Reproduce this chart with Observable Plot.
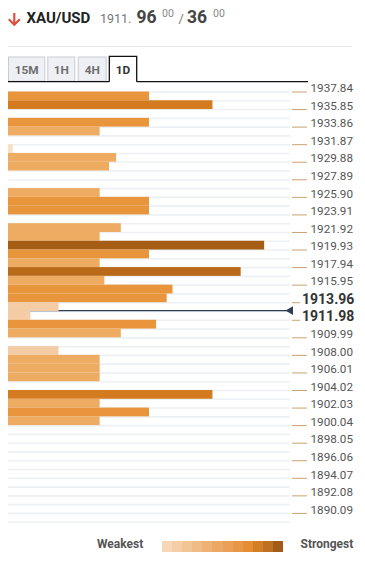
<!DOCTYPE html>
<html><head><meta charset="utf-8">
<script src="https://cdn.jsdelivr.net/npm/d3@7"></script>
<script src="https://cdn.jsdelivr.net/npm/@observablehq/plot@0.6"></script>
<style>
body{margin:0;background:#fff;font-family:Roboto,sans-serif;}
#wrap{position:relative;width:365px;height:561px;overflow:hidden;background:#fff;}
#hdr{position:absolute;left:0;top:0;}
#chart{position:absolute;left:0;top:83px;}
.lg{position:absolute;font:bold 12px Roboto,sans-serif;color:#555;top:537px;line-height:15px;}
#grad{position:absolute;left:162px;top:541px;height:11px;display:flex;}
#grad div{width:10.1px;height:11px;}
</style></head><body>
<div id="wrap">
  <svg id="hdr" width="365" height="83"></svg>
  <div id="chart"></div>
  <div class="lg" style="left:97px">Weakest</div>
  <div id="grad"></div>
  <div class="lg" style="left:300.5px">Strongest</div>
</div>
<script>
// ---- data ----
const symbol = "XAU/USD";
const bidInt = "1911.", bidBig = "96", bidSup = "00", askBig = "36", askSup = "00";
const tabs = ["15M", "1H", "4H", "1D"];
const activeTab = "1D";
const tickLabels = ["1937.84","1935.85","1933.86","1931.87","1929.88","1927.89","1925.90","1923.91",
  "1921.92","1919.93","1917.94","1915.95","1913.96","1911.98","1909.99","1908.00","1906.01",
  "1904.02","1902.03","1900.04","1898.05","1896.06","1894.07","1892.08","1890.09"];
const boldLabels = ["1913.96", "1911.98"];
// confluence strength per price row, top row first (0 = none)
const strengths = [6.0, 8.7, 0, 6.0, 3.9, 0, 0.2, 4.6, 4.3, 0, 0, 3.9, 6.0, 6.0, 0, 4.8, 3.9,
  10.9, 6.0, 3.9, 9.9, 4.1, 7.0, 6.75, 2.15, 0.95, 6.3, 4.8, 0, 2.15, 3.9, 3.9, 3.9, 0,
  8.7, 3.9, 6.0, 3.9, 0, 0, 0, 0, 0, 0, 0, 0, 0, 0, 0];
const currentRow = 24.9;
const thresholds = [0.5, 3, 5.5, 8, 9.5, 10.5];
const barColors = ["#f8dfc5", "#f4cda6", "#eeac63", "#e8953b", "#d47b1f", "#b96a19", "#a55e14"];
const legendColors = ["#f7d7b8","#f5cea6","#f2c595","#f0bb84","#eeb274","#eca865",
  "#eaa056","#e89747","#e58d35","#d47e25","#bf7020","#a05c18"];

// ---- header ----
const hdr = d3.select("#hdr");
hdr.append("path").attr("d", "M14.3 13 V24.5 M8.8 19.3 L14.3 24.8 L19.8 19.3")
  .attr("fill", "none").attr("stroke", "#d9503f").attr("stroke-width", 2.2);
const T = (x, y, s, size, weight, fill) => hdr.append("text").attr("x", x).attr("y", y)
  .attr("font-family", "Roboto").attr("font-size", size).attr("font-weight", weight)
  .attr("fill", fill).text(s);
T(26.5, 22.7, symbol, 15, "bold", "#222");
T(100, 22.7, bidInt, 12.5, "normal", "#777");
T(136.5, 23.3, bidBig, 17.5, "bold", "#444");
T(162, 16.8, bidSup, 10.5, "normal", "#888");
T(178.5, 22.7, "/", 13, "normal", "#777");
T(187, 23.3, askBig, 17.5, "bold", "#444");
T(213, 16.8, askSup, 10.5, "normal", "#888");
hdr.append("line").attr("x1", 8).attr("x2", 352).attr("y1", 46.5).attr("y2", 46.5)
  .attr("stroke", "#eaeaea").attr("stroke-width", 1);
const tabX = [[8, 45.3], [47.3, 75.3], [77.7, 106.7], [109.3, 136.7]];
tabs.forEach((t, i) => {
  const [a, b] = tabX[i];
  const act = t === activeTab;
  if (act) {
    hdr.append("path").attr("d", `M${a} 81.7 V56.3 H${b} V81.7`).attr("fill", "#fff")
      .attr("stroke", "#111").attr("stroke-width", 1.3);
  } else {
    hdr.append("rect").attr("x", a + 0.5).attr("y", 57).attr("width", b - a - 1).attr("height", 24.2)
      .attr("fill", "#eef0f5").attr("stroke", "#c9cbd3").attr("stroke-width", 1);
  }
  T((a + b) / 2, 74, t, 11.8, "bold", act ? "#333" : "#6e6e6e").attr("text-anchor", "middle");
});
hdr.append("path").attr("d", `M8 81.7 H109.3 M136.7 81.7 H308`).attr("stroke", "#111").attr("stroke-width", 1.3);

// ---- chart ----
const W = 365, mL = 8, mR = 75, xMax = 12;
const perPx = xMax / (W - mL - mR); // data units per pixel, for axis tick lengths
const bars = strengths.map((v, i) => ({i, v})).filter(d => d.v > 0);
const labelRows = tickLabels.map((t, j) => ({y: 2 * j, t, bold: boldLabels.includes(t)}));
const normal = labelRows.filter(d => !d.bold), bold = labelRows.filter(d => d.bold);
const chart = Plot.plot({
  width: W, height: 445,
  marginTop: 8.5, marginBottom: 6.3, marginLeft: mL, marginRight: mR,
  x: {domain: [0, xMax], axis: null},
  y: {domain: [0, strengths.length], reverse: true, axis: null},
  color: {type: "threshold", domain: thresholds, range: barColors},
  style: {fontFamily: "Roboto", background: "white", overflow: "visible"},
  marks: [
    Plot.ruleY(d3.range(0, strengths.length + 1), {stroke: "#edf0f4", strokeWidth: 1.6}),
    Plot.ruleY([currentRow], {stroke: "#2c3e50", strokeWidth: 1.2}),
    Plot.rect(bars, {x1: 0, x2: "v", y1: "i", y2: d => d.i + 1, fill: "v", inset: 0}),
    Plot.dot([currentRow], {y: d => d, frameAnchor: "right", symbol: "triangle", rotate: -90, r: 3.2, fill: "#2c3e50"}),
    Plot.ruleY(normal, {y: "y", x1: xMax + 2 * perPx, x2: xMax + 17 * perPx, stroke: "#c8a36d", strokeWidth: 1}),
    Plot.ruleY(bold, {y: "y", x1: xMax + 2 * perPx, x2: xMax + 10 * perPx, stroke: "#c8a36d", strokeWidth: 1}),
    Plot.text(normal, {y: "y", text: "t", frameAnchor: "right", dx: 20, dy: -3.5, textAnchor: "start", fontSize: 11.7, fill: "#555"}),
    Plot.text(bold, {y: "y", text: "t", frameAnchor: "right", dx: 11.5, dy: -3.5, textAnchor: "start", fontSize: 14, fontWeight: "bold", fill: "#333"})
  ]
});
document.getElementById("chart").appendChild(chart);

// ---- legend ----
d3.select("#grad").selectAll("div").data(legendColors).join("div").style("background", d => d);
</script>
</body></html>
